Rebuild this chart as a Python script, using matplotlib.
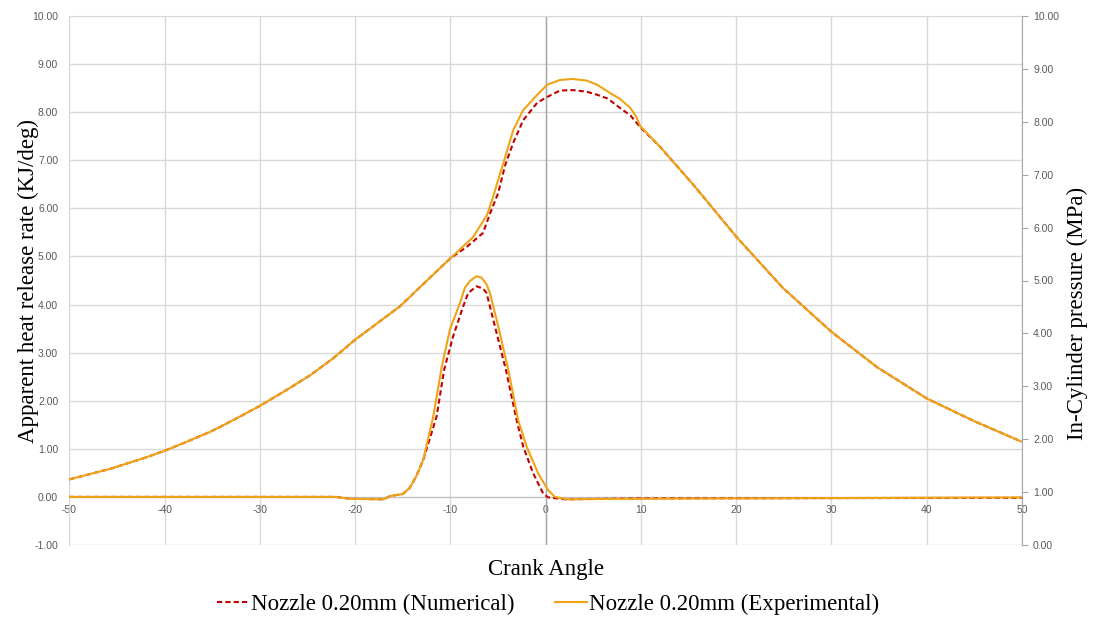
import numpy as np
import matplotlib
matplotlib.use("Agg")
import matplotlib.pyplot as plt
from matplotlib.lines import Line2D

# In-cylinder pressure (MPa) vs crank angle
angle_num_p = [-50, -45.7, -42.2, -40, -37.7, -35.2, -32.8, -30, -27.2, -24.7, -22.3, -20,
               -15.3, -12.4, -10, -8.25, -6.57, -5.83, -4.99, -4.25, -3.41, -2.36, -0.89,
               0.16, 1.5, 2.78, 4.3, 5.41, 6.5, 7.82, 8.9, 9.92, 12.0, 15.5, 20, 24.9, 30,
               34.8, 40, 45, 50]
num_p = [1.24, 1.44, 1.64, 1.78, 1.95, 2.14, 2.36, 2.63, 2.93, 3.21, 3.53, 3.88,
         4.51, 5.01, 5.42, 5.64, 5.90, 6.27, 6.65, 7.18, 7.60, 8.03, 8.36,
         8.47, 8.59, 8.60, 8.57, 8.51, 8.44, 8.26, 8.12, 7.90, 7.53, 6.81, 5.83, 4.86, 4.03,
         3.36, 2.77, 2.34, 1.95]

angle_exp_p = [-50, -45.7, -42.2, -40, -37.7, -35.2, -32.8, -30, -27.2, -24.7, -22.3, -20,
               -15.3, -12.4, -10, -7.62, -6.15, -5.52, -4.99, -4.25, -3.41, -2.36, -0.89,
               0.16, 1.5, 2.78, 4.3, 5.41, 6.8, 7.82, 8.85, 9.5, 9.92, 12.0, 15.5, 20, 24.9,
               30, 34.8, 40, 45, 50]
exp_p = [1.24, 1.44, 1.64, 1.78, 1.95, 2.14, 2.36, 2.63, 2.93, 3.21, 3.53, 3.88,
         4.51, 5.01, 5.42, 5.82, 6.24, 6.58, 6.90, 7.33, 7.84, 8.22, 8.51,
         8.70, 8.79, 8.81, 8.78, 8.70, 8.54, 8.43, 8.27, 8.10, 7.92, 7.53, 6.81, 5.83, 4.86,
         4.03, 3.36, 2.77, 2.34, 1.95]

# Apparent heat release rate (KJ/deg)
angle_num_h = [-50, -22, -20.5, -17, -16.3, -15.0, -14.3, -13.6, -12.85, -11.45, -10.65,
               -9.71, -8.66, -8.13, -7.25, -6.56, -6.2, -5.33, -4.18, -3.05, -2.36, -1.31,
               -0.26, 0.26, 2.0, 10, 50]
num_h = [0, 0, -0.04, -0.05, 0.02, 0.06, 0.18, 0.42, 0.77, 1.67, 2.65,
         3.34, 3.96, 4.24, 4.38, 4.33, 4.24, 3.55, 2.65, 1.60, 1.05, 0.49,
         0.07, -0.01, -0.05, -0.03, -0.02]

angle_exp_h = [-50, -22, -20.5, -17, -16.3, -15.0, -14.3, -13.6, -12.85, -11.8, -10.9,
               -10.05, -9.0, -8.48, -7.95, -7.25, -6.73, -6.2, -5.85, -4.98, -3.93, -2.89,
               -2.0, -0.79, 0.26, 0.97, 2.2, 8, 50]
exp_h = [0, 0, -0.04, -0.05, 0.02, 0.06, 0.18, 0.42, 0.77, 1.67, 2.71,
         3.48, 4.03, 4.35, 4.49, 4.59, 4.56, 4.42, 4.24, 3.55, 2.65, 1.60,
         1.05, 0.49, 0.14, 0.0, -0.05, -0.04, -0.01]

x_ticks = list(range(-50, 51, 10))
left_ticks = list(range(-1, 11))
right_ticks = list(range(0, 11))

red = '#C00000'
orange = '#EFA416'
grid_c = '#D9D9D9'
tick_c = '#595959'
serif = 'Liberation Serif'
sans = 'Liberation Sans'

fig = plt.figure(figsize=(10.95, 6.22), dpi=100)
ax = fig.add_axes([69.3 / 1095, 77 / 622, (1022 - 69.3) / 1095, (545 - 16) / 622])
ax2 = ax.twinx()

ax.set_xlim(-50, 50)
ax.set_ylim(-1, 10)
ax2.set_ylim(0, 10)

ax.set_xticks(x_ticks)
ax.set_xticklabels([str(t) for t in x_ticks])
ax.set_yticks(left_ticks)
ax.set_yticklabels(['%.2f' % t for t in left_ticks])
ax2.set_yticks(right_ticks)
ax2.set_yticklabels(['%.2f' % t for t in right_ticks])

ax.grid(True, color=grid_c, lw=1)
ax.set_axisbelow(True)
ax.axvline(0, color='#A6A6A6', lw=1, zorder=1)

for s in ['left', 'top']:
    ax.spines[s].set_color(grid_c)
ax.spines['right'].set_visible(False)
ax.spines['bottom'].set_position(('data', 0))
ax.spines['bottom'].set_color('#BFBFBF')
ax.tick_params(axis='both', length=0, labelsize=7.5, labelcolor=tick_c)
ax.tick_params(axis='x', pad=6)
ax.tick_params(axis='y', pad=8)

for s in ['left', 'top', 'bottom']:
    ax2.spines[s].set_visible(False)
ax2.spines['right'].set_color('#A6A6A6')
ax2.tick_params(axis='y', length=4, color='#A6A6A6', labelsize=7.5, labelcolor=tick_c, pad=4)

for lab in ax.get_xticklabels() + ax.get_yticklabels() + ax2.get_yticklabels():
    lab.set_fontfamily(sans)

# heat release rate on the left scale, pressure on the right scale
ax.plot(angle_num_h, num_h, color=red, lw=1.5, dashes=(2.5, 1.5), zorder=3)
ax.plot(angle_exp_h, exp_h, color=orange, lw=1.5, zorder=4)
ax2.plot(angle_num_p, num_p, color=red, lw=1.5, dashes=(2.5, 1.5))
ax2.plot(angle_exp_p, exp_p, color=orange, lw=1.5)

fig.text(28 / 1095, 1 - 281 / 622, 'Apparent heat release rate (KJ/deg)', rotation=90,
         ha='center', va='center', fontsize=16.5, family=serif)
fig.text(1077 / 1095, 1 - 313 / 622, 'In-Cylinder pressure (MPa)', rotation=90,
         ha='center', va='center', fontsize=16.5, family=serif)
fig.text(546 / 1095, 1 - 570 / 622, 'Crank Angle', ha='center', va='center',
         fontsize=16.5, family=serif)

handles = [Line2D([], [], color=red, lw=1.5, dashes=(2.5, 1.5)),
           Line2D([], [], color=orange, lw=1.5)]
fig.legend(handles, ['Nozzle 0.20mm (Numerical)', 'Nozzle 0.20mm (Experimental)'],
           loc='center', bbox_to_anchor=(548 / 1095, 1 - 604 / 622), ncol=2,
           frameon=False, prop={'family': serif, 'size': 16.5},
           handlelength=1.4, handletextpad=0.05, columnspacing=1.8)

fig.savefig('out.png', dpi=100)
